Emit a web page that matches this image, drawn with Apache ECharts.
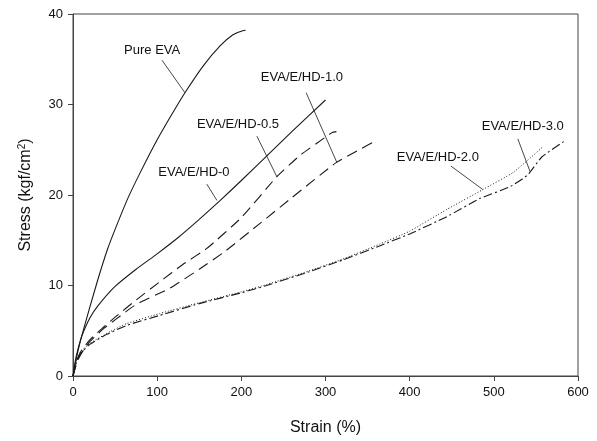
<!DOCTYPE html>
<html>
<head>
<meta charset="utf-8">
<script src="https://cdn.jsdelivr.net/npm/echarts@6/dist/echarts.min.js"></script>
<style>
html,body{margin:0;padding:0;background:#fff;}
#chart{width:597px;height:441px;}
</style>
</head>
<body>
<div id="chart"></div>
<script>
// Data: [strain %, stress kgf/cm2]
const pureEVA = [[0,0],[3,1.5],[6,2.8],[10,4.3],[20,7.6],[30,10.8],[41,14.0],[50,16.2],[65,19.6],[80,22.5],[100,26.1],[118,29.0],[133,31.3],[155,34.3],[175,36.5],[190,37.7],[200,38.1],[205,38.2]];
const hd0 = [[0,0],[3,1.8],[6,3],[10,4.3],[20,6.4],[30,7.8],[50,9.9],[75,11.8],[100,13.5],[125,15.3],[150,17.3],[175,19.4],[200,21.6],[230,24.3],[260,27.0],[300,30.5]];
const hd05 = [[0,0],[5,1.8],[10,2.8],[20,4],[35,5.3],[50,6.5],[75,8.4],[103,10.4],[130,12.3],[159,14.1],[200,17.5],[242,22],[270,24.4],[300,26.4],[308,26.9],[313,27]];
const hd10 = [[0,0],[5,1.6],[10,2.5],[20,3.8],[36,5.2],[50,6.2],[75,7.9],[115,9.7],[150,11.8],[181,13.8],[220,16.7],[260,19.7],[313,23.6],[340,25],[360,26]];
const hd20 = [[0,0],[5,2],[10,2.8],[20,3.6],[44,4.9],[64,5.8],[103,6.9],[150,8.1],[200,9.3],[230,10.1],[280,11.6],[320,12.9],[365,14.6],[400,16],[444,18.4],[487,20.6],[523,22.5],[558,25.3]];
const hd30 = [[0,0],[5,1.8],[10,2.6],[20,3.5],[40,4.6],[64,5.6],[103,6.7],[150,8],[200,9.2],[230,10],[280,11.5],[320,12.8],[365,14.4],[400,15.7],[444,17.6],[483,19.6],[519,20.9],[540,22.2],[557,24.2],[583,25.9]];

const xTicks = [0,100,200,300,400,500,600];
const yTicks = [0,10,20,30,40];

// annotation labels [text, strain, stress] and pointers [from strain, from stress, to strain, to stress]
const labelNames = ['Pure EVA','EVA/E/HD-1.0','EVA/E/HD-0.5','EVA/E/HD-0','EVA/E/HD-2.0','EVA/E/HD-3.0'];
const labelPos = [[94,36.0],[272,33.0],[196,27.8],[143.7,22.5],[433.5,24.1],[534.4,27.6]];
const pointers = [[105.7,34.9,133,31.3],[277,31.3,313.5,23.6],[218.5,26.5,242.3,22.0],[159,21.2,171,19.4],[449,23.2,487,20.6],[528.5,26.2,543,22.6]];

const chart = echarts.init(document.getElementById('chart'));
const lineColor = '#1a1a1a';
function mk(name, data, type, width){
  return {name, type:'line', data, showSymbol:false, symbol:'none', smooth:0.15, silent:true,
    lineStyle:{color:lineColor, width:width||1, type:type}};
}
chart.setOption({
  animation:false,
  backgroundColor:'#fff',
  grid:{left:73,right:19,top:14,bottom:63,show:true,borderColor:'#444',borderWidth:1},
  xAxis:{type:'value',min:0,max:600,interval:100,
    name:'Strain (%)',nameLocation:'middle',nameGap:44,
    nameTextStyle:{fontFamily:'Liberation Sans',fontSize:16,color:'#111'},
    axisLine:{lineStyle:{color:'#444',width:1}},
    axisTick:{show:true,inside:false,length:5,lineStyle:{color:'#444'}},
    axisLabel:{fontFamily:'Liberation Sans',fontSize:13,color:'#111',margin:10,
      formatter:v=>xTicks.includes(v)?String(v):''},
    splitLine:{show:false}},
  yAxis:{type:'value',min:0,max:40,interval:10,
    name:'Stress (kgf/cm{sup|2})',nameLocation:'middle',nameGap:38,nameRotate:90,
    nameTextStyle:{fontFamily:'Liberation Sans',fontSize:16,color:'#111',
      rich:{sup:{fontSize:10,verticalAlign:'top',padding:[0,0,8,0],fontFamily:'Liberation Sans',color:'#111'}}},
    axisLine:{show:true,lineStyle:{color:'#444',width:1}},
    axisTick:{show:true,inside:false,length:5,lineStyle:{color:'#444'}},
    axisLabel:{fontFamily:'Liberation Sans',fontSize:13,color:'#111',margin:10,
      formatter:v=>yTicks.includes(v)?String(v):''},
    splitLine:{show:false}},
  series:[
    mk('Pure EVA',pureEVA,'solid',1.1),
    mk('EVA/E/HD-0',hd0,'solid',1.1),
    mk('EVA/E/HD-0.5',hd05,[11,6],1.1),
    mk('EVA/E/HD-1.0',hd10,[11,6],1.1),
    mk('EVA/E/HD-2.0',hd20,[1,2],1),
    mk('EVA/E/HD-3.0',hd30,[9,3,2,3],1.1)
  ]
});

const gfx = [];
labelNames.forEach((t,i)=>{
  const p = chart.convertToPixel({gridIndex:0}, labelPos[i]);
  gfx.push({type:'text',x:p[0],y:p[1],silent:true,
    style:{text:t,fill:'#111',font:'13px "Liberation Sans"',align:'center',verticalAlign:'middle'}});
});
pointers.forEach(q=>{
  const a = chart.convertToPixel({gridIndex:0}, [q[0],q[1]]);
  const b = chart.convertToPixel({gridIndex:0}, [q[2],q[3]]);
  gfx.push({type:'line',silent:true,shape:{x1:a[0],y1:a[1],x2:b[0],y2:b[1]},
    style:{stroke:'#333',lineWidth:0.9}});
});
chart.setOption({graphic:gfx});
</script>
</body>
</html>
